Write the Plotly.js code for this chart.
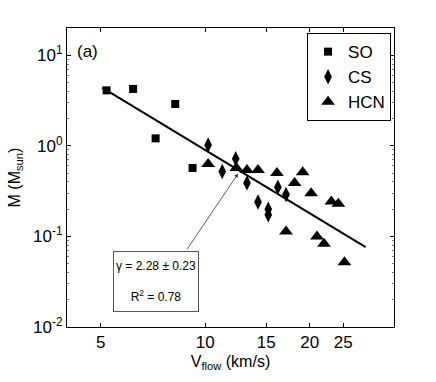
<!DOCTYPE html>
<html>
<head>
<meta charset="utf-8">
<script src="https://cdn.plot.ly/plotly-3.0.1.min.js"></script>
<style>
  body { margin: 0; background: #fff; }
  #plot { width: 436px; height: 382px; }
</style>
</head>
<body>
<div id="plot"></div>
<script>
// SO points
var soV = [5.2, 6.2, 7.2, 8.2, 9.2];
var soM = [4.1, 4.25, 1.21, 2.9, 0.57];

// CS points
var csV = [10.2, 11.2, 12.25, 13.2, 14.2, 15.2, 15.2, 16.2, 17.1];
var csM = [1.02, 0.52, 0.72, 0.39, 0.24, 0.2, 0.173, 0.35, 0.29];

// HCN points
var hcnV = [10.2, 12.3, 13.2, 14.2, 16.1, 17.1, 18.1, 19.1, 20.2, 21.0, 22.0, 23.1, 24.2, 25.2];
var hcnM = [0.63, 0.57, 0.54, 0.54, 0.5, 0.113, 0.39, 0.51, 0.3, 0.1, 0.083, 0.243, 0.23, 0.052];

// power law fit line ends
var fitV = [5.05, 29];
var fitM = [4.4, 0.076];

var yTickVals = [0.01, 0.1, 1, 10];
var yTickText = ['10<sup>-2</sup>', '10<sup>-1</sup>', '10<sup>0</sup>', '10<sup>1</sup>'];
var xTickVals = [5, 10, 15, 20, 25];

// minor tick positions on the log y axis
var yMinor = [];
for (var k = -2; k <= 1; k++) {
  for (var m = 2; m <= 9; m++) yMinor.push(m * Math.pow(10, k));
}

var font = {family: 'Liberation Sans, Arial, sans-serif', color: '#000'};

var traces = [
  {x: soV, y: soM, name: 'SO', mode: 'markers', type: 'scatter',
   marker: {symbol: 'square', size: 8, color: '#000'}},
  {x: csV, y: csM, name: 'CS', mode: 'markers', type: 'scatter',
   marker: {symbol: 'diamond-tall', size: 11, color: '#000'}},
  {x: hcnV, y: hcnM, name: 'HCN', mode: 'markers', type: 'scatter',
   marker: {symbol: 'triangle-up', size: 12, color: '#000'}},
  {x: fitV, y: fitM, mode: 'lines', type: 'scatter', showlegend: false,
   line: {color: '#000', width: 2}, hoverinfo: 'skip'}
];

var layout = {
  width: 436, height: 382,
  margin: {l: 67, r: 42, t: 28, b: 55},
  paper_bgcolor: '#fff', plot_bgcolor: '#fff',
  font: {family: font.family, size: 16, color: '#000'},
  showlegend: true,
  legend: {
    x: 0.991, y: 0.983, xanchor: 'right', yanchor: 'top',
    bordercolor: '#000', borderwidth: 1, bgcolor: '#fff',
    font: {family: font.family, size: 17, color: '#000'},
    tracegroupgap: 0
  },
  xaxis: {
    type: 'log', range: [Math.log10(4), Math.log10(35)],
    tickvals: xTickVals, ticktext: xTickVals.map(String),
    ticks: 'inside', ticklen: 4, tickcolor: '#000',
    showline: true, linecolor: '#000', linewidth: 1, mirror: 'allticks',
    showgrid: false, zeroline: false,
    tickfont: {family: font.family, size: 17, color: '#000'},
    title: {text: 'V<sub>flow</sub> (km/s)', font: {family: font.family, size: 16, color: '#000'}, standoff: 4}
  },
  yaxis: {
    type: 'log', range: [-2, Math.log10(20)],
    tickvals: yTickVals, ticktext: yTickText,
    ticks: 'inside', ticklen: 4, tickcolor: '#000',
    minor: {tickvals: yMinor, ticks: 'inside', ticklen: 2, tickcolor: '#777'},
    showline: true, linecolor: '#000', linewidth: 1, mirror: 'allticks',
    showgrid: false, zeroline: false,
    tickfont: {family: font.family, size: 17, color: '#000'},
    title: {text: 'M (M<sub>sun</sub>)', font: {family: font.family, size: 16, color: '#000'}, standoff: 8}
  },
  annotations: [
    {xref: 'paper', yref: 'paper', x: 0.064, y: 0.923, xanchor: 'center', yanchor: 'middle',
     text: '(a)', showarrow: false, font: {family: font.family, size: 17, color: '#000'}},
    {xref: 'x', yref: 'y', x: 0.858, y: -1.494, xanchor: 'center', yanchor: 'middle',
     width: 84, height: 59, align: 'center', valign: 'middle',
     text: 'γ = 2.28 ± 0.23<br><br>R<sup>2</sup> = 0.78',
     showarrow: false, bordercolor: '#555', borderwidth: 1, borderpad: 0, bgcolor: '#fff',
     font: {family: font.family, size: 12, color: '#000'}},
    {xref: 'x', yref: 'y', x: 1.095, y: -0.307, axref: 'x', ayref: 'y', ax: 0.945, ay: -1.159,
     text: '', showarrow: true, arrowhead: 2, arrowsize: 1, arrowwidth: 0.8, arrowcolor: '#333'}
  ]
};

Plotly.newPlot('plot', traces, layout, {displayModeBar: false, staticPlot: true});
</script>
</body>
</html>
